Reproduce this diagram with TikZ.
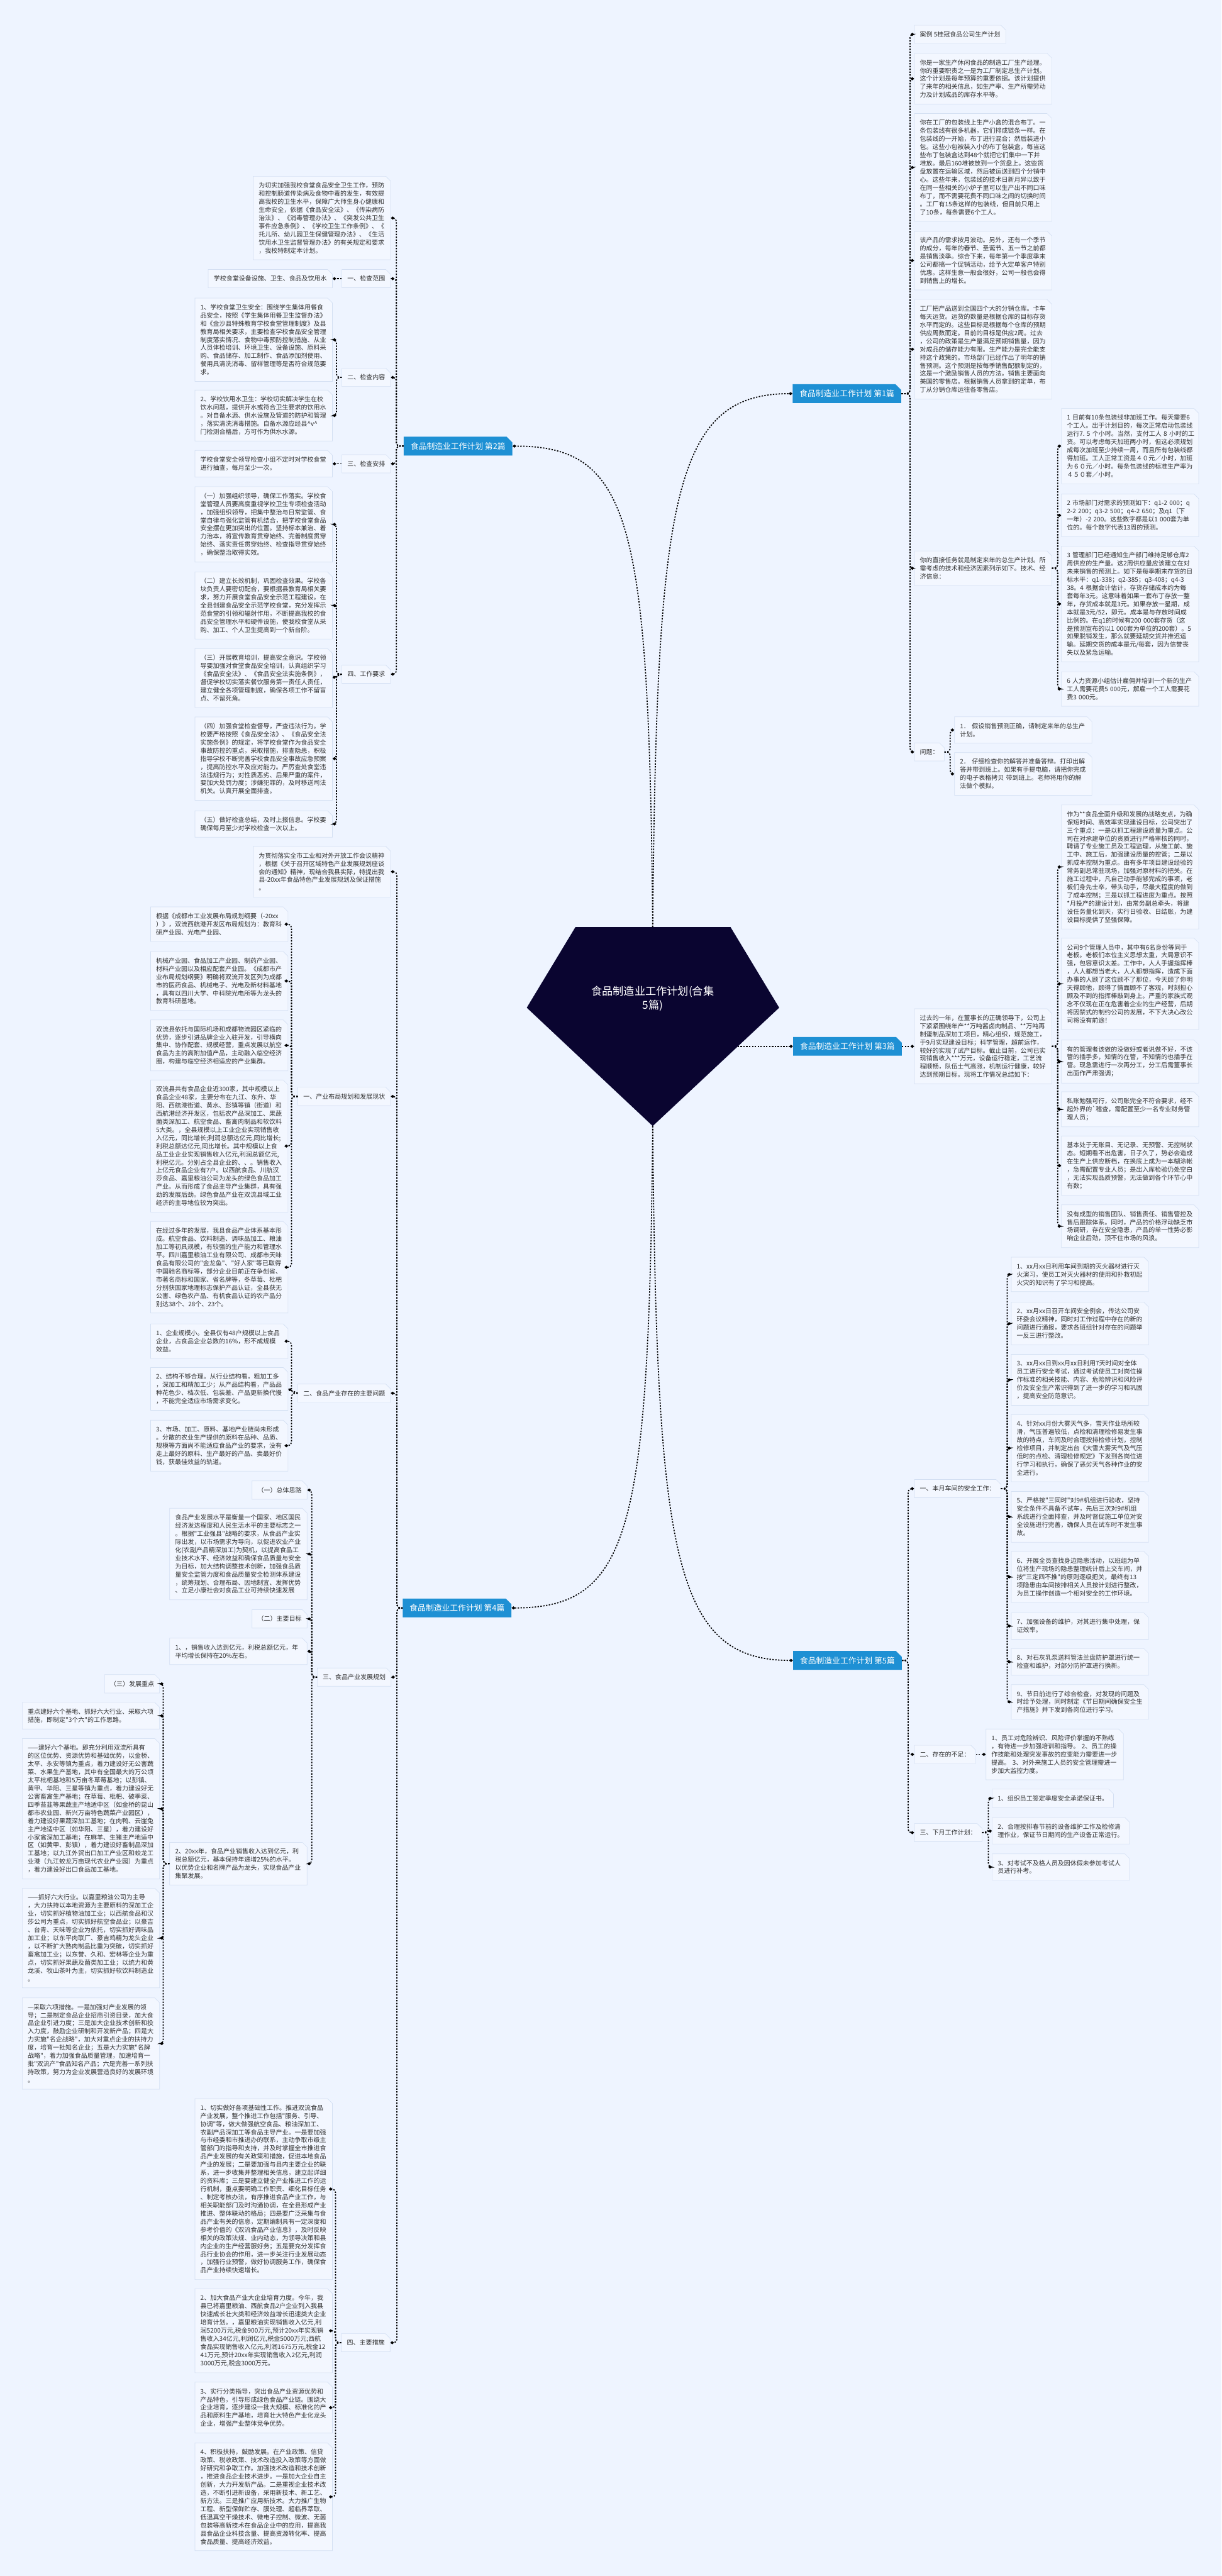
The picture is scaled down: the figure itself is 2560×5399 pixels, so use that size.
\documentclass[tikz,border=0pt]{standalone}
\usepackage{fontspec}
\newfontfamily\cjk{Noto Sans CJK SC}
\usepackage{tikz}
\usetikzlibrary{arrows.meta,shapes.misc}

\definecolor{bgblue}{RGB}{238,244,255}
\definecolor{boxfill}{RGB}{243,247,255}
\definecolor{boxline}{RGB}{212,224,243}
\definecolor{topicblue}{RGB}{30,144,212}
\definecolor{rootnavy}{RGB}{10,5,48}
\definecolor{txtgray}{RGB}{48,48,48}

\begin{document}
\begin{tikzpicture}[x=0.02cm, y=-0.02cm,
  box/.style={chamfered rectangle, chamfered rectangle corners=north east,
    chamfered rectangle xsep=0.1cm, chamfered rectangle ysep=0.1cm,
    fill=boxfill, draw=boxline, line width=0.5pt, text=txtgray,
    font=\cjk\fontsize{7.5}{9.7}\selectfont, align=left,
    inner xsep=0.13cm, inner ysep=0.16cm},
  para/.style={box, text width=5.3cm},
  topic/.style={chamfered rectangle, chamfered rectangle corners=north east,
    chamfered rectangle xsep=0.12cm, chamfered rectangle ysep=0.12cm,
    fill=topicblue, text=white, font=\cjk\fontsize{9.6}{11}\selectfont,
    minimum width=4.36cm, minimum height=0.78cm, inner xsep=0.17cm},
  link/.style={draw=black, line width=1.3pt, dash pattern=on 1.7pt off 1.7pt,
    rounded corners=0.14cm, -{Diamond[length=4.5pt,width=3.8pt]}}]

% background and page size
\fill[bgblue] (0,0) rectangle (2560,5399);
\useasboundingbox (0,0) rectangle (2560,5399);

% central pentagon
\fill[rootnavy] (1206,1943) -- (1531,1943) -- (1633,2112) -- (1368,2360) -- (1104,2112) -- cycle;
\coordinate (rt) at (1368,1943);
\coordinate (rb) at (1368,2360);
\coordinate (rr) at (1546,2193);
\node[text=white, font=\cjk\fontsize{12.9}{17}\selectfont, align=center] (root) at (1368,2093) {食品制造业工作计划(合集\\5篇)};

% five main topics
\node[topic] (t1) at (1775,825) {食品制造业工作计划~第1篇};
\node[topic] (t2) at (960,935) {食品制造业工作计划~第2篇};
\node[topic] (t3) at (1776,2193) {食品制造业工作计划~第3篇};
\node[topic] (t4) at (958,3370) {食品制造业工作计划~第4篇};
\node[topic] (t5) at (1776,3480) {食品制造业工作计划~第5篇};

\draw[link] (rt) .. controls +(8,-900) and +(-250,0) .. (t1.west);
\draw[link] (rt) .. controls +(-8,-850) and +(250,0) .. (t2.east);
\draw[link] (rr) -- (t3.west);
\draw[link] (rb) .. controls +(-8,850) and +(250,0) .. (t4.east);
\draw[link] (rb) .. controls +(8,900) and +(-250,0) .. (t5.west);

% ---------------- topic 1 ----------------
\node[box, anchor=west] (caseA) at (1916,72) {案例~5桂冠食品公司生产计划};
\node[para, anchor=west] (caseB) at (1916,165) {你是一家生产休闲食品的制造工厂生产经理。\\你的重要职责之一是为工厂制定总生产计划。\\这个计划是每年预算的重要依据。该计划提供\\了来年的相关信息，如生产率、生产所需劳动\\力及计划成品的库存水平等。};
\node[para, anchor=west] (caseC) at (1916,351) {你在工厂的包装线上生产小盒的混合布丁。一\\条包装线有很多机器，它们排成链条一样。在\\包装线的一开始，布丁进行混合；然后装进小\\包。这些小包被装入小的布丁包装盒，每当这\\些布丁包装盒达到48个就把它们集中一下并\\堆放。最后160堆被放到一个货盘上。这些货\\盘放置在运输区域，然后被运送到四个分销中\\心。这些年来，包装线的技术日新月异以致于\\在同一些相关的小炉子里可以生产出不同口味\\布丁，而不需要花费不同口味之间的切换时间\\。工厂有15条这样的包装线，但目前只用上\\了10条，每条需要6个工人。};
\node[para, anchor=west] (caseD) at (1916,546) {该产品的需求按月波动。另外，还有一个季节\\的成分，每年的春节、圣诞节、五一节之前都\\是销售淡季。综合下来，每年第一个季度季末\\公司都搞一个促销活动，给予大定单客户特别\\优惠。这样生意一般会很好，公司一般也会得\\到销售上的增长。};
\node[para, anchor=west] (caseE) at (1916,732) {工厂把产品送到全国四个大的分销仓库。卡车\\每天运货。运货的数量是根据仓库的目标存货\\水平而定的。这些目标是根据每个仓库的预期\\供应周数而定。目前的目标是供应2周。过去\\，公司的政策是生产量满足预期销售量，因为\\对成品的储存能力有限。生产能力是完全能支\\持这个政策的。市场部门已经作出了明年的销\\售预测。这个预测是按每季销售配额制定的，\\这是一个激励销售人员的方法。销售主要面向\\美国的零售店。根据销售人员拿到的定单，布\\丁从分销仓库运往各零售店。};
\node[para, anchor=west] (task) at (1916,1191) {你的直接任务就是制定来年的总生产计划。所\\需考虑的技术和经济因素列示如下。技术、经\\济信息：};
\node[box, anchor=west] (ques) at (1916,1576) {问题：};

\node[para, anchor=west] (info1) at (2224,935) {1~目前有10条包装线非加班工作。每天需要6\\个工人。出于计划目的，每次正常启动包装线\\运行7.~5~个小时。当然，支付工人~8~小时的工\\资。可以考虑每天加班两小时，但这必须规划\\成每次加班至少持续一周，而且所有包装线都\\得加班。工人正常工资是４０元／小时，加班\\为６０元／小时。每条包装线的标准生产率为\\４５０套／小时。};
\node[para, anchor=west] (info2) at (2224,1080) {2~市场部门对需求的预测如下：q1-2~000；q\\2-2~200；q3-2~500；q4-2~650；及q1（下\\一年）-2~200。这些数字都是以1~000套为单\\位的。每个数字代表13周的预测。};
\node[para, anchor=west] (info3) at (2224,1266) {3~管理部门已经通知生产部门维持足够仓库2\\周供应的生产量。这2周供应量应该建立在对\\未来销售的预测上。如下是每季期末存货的目\\标水平：q1-338；q2-385；q3-408；q4-3\\38。4~根据会计估计，存货存储成本约为每\\套每年3元。这意味着如果一套布丁存放一整\\年，存货成本就是3元。如果存放一星期，成\\本就是3元/52，即元。成本是与存放时间成\\比例的。在q1的时候有200~000套存货（这\\是预测宣布的以1~000套为单位的200套）。5\\如果脱销发生，那么就要延期交货并推迟运\\输。延期交货的成本是元/每套，因为信誉丧\\失以及紧急运输。};
\node[para, anchor=west] (info4) at (2224,1444) {6~人力资源小组估计雇佣并培训一个新的生产\\工人需要花费5~000元，解雇一个工人需要花\\费3~000元。};
\node[para, anchor=west] (ques1) at (2000,1530) {1．~假设销售预测正确，请制定来年的总生产\\计划。};
\node[para, anchor=west] (ques2) at (2000,1622) {2．~仔细检查你的解答并准备答辩。打印出解\\答并带到班上。如果有手提电脑，请把你完成\\的电子表格拷贝~带到班上。老师将用你的解\\法做个模拟。};

\foreach \c in {caseA,caseB,caseC,caseD,caseE,task,ques}
  \draw[link] (t1.east) -- ++(18,0) |- (\c.west);
\foreach \c in {info1,info2,info3,info4}
  \draw[link] (task.east) -- ++(12,0) |- (\c.west);
\foreach \c in {ques1,ques2}
  \draw[link] (ques.east) -- ++(12,0) |- (\c.west);

% ---------------- topic 2 ----------------
\node[para, anchor=east] (plan) at (819,457) {为切实加强我校食堂食品安全卫生工作，预防\\和控制肠道传染病及食物中毒的发生，有效提\\高我校的卫生水平，保障广大师生身心健康和\\生命安全，依据《食品安全法》、《传染病防\\治法》、《消毒管理办法》、《突发公共卫生\\事件应急条例》、《学校卫生工作条例》、《\\托儿所、幼儿园卫生保健管理办法》、《生活\\饮用水卫生监督管理办法》的有关规定和要求\\，我校特制定本计划。};
\node[box, anchor=east] (scope) at (819,584) {一、检查范围};
\node[box, anchor=east] (content) at (819,791) {二、检查内容};
\node[box, anchor=east] (arrange) at (819,972) {三、检查安排};
\node[box, anchor=east] (demand) at (819,1413) {四、工作要求};

\node[box, anchor=east] (scopeA) at (697,584) {学校食堂设备设施、卫生、食品及饮用水};
\node[para, anchor=east] (contA) at (697,712) {1、学校食堂卫生安全：围绕学生集体用餐食\\品安全，按照《学生集体用餐卫生监督办法》\\和《金沙县特殊教育学校食堂管理制度》及县\\教育局相关要求，主要检查学校食品安全管理\\制度落实情况、食物中毒预防控制措施、从业\\人员体检培训、环境卫生、设备设施、原料采\\购、食品储存、加工制作、食品添加剂使用、\\餐用具清洗消毒、留样管理等是否符合规范要\\求。};
\node[para, anchor=east] (contB) at (697,871) {2、学校饮用水卫生：学校切实解决学生在校\\饮水问题，提供开水或符合卫生要求的饮用水\\。对自备水源、供水设施及管道的防护和管理\\，落实清洗消毒措施。自备水源应经县\textasciicircum{}v\textasciicircum{}\\门检测合格后，方可作为供水水源。};
\node[para, anchor=east] (arrA) at (697,972) {学校食堂安全领导检查小组不定时对学校食堂\\进行抽查，每月至少一次。};
\node[para, anchor=east] (demA) at (697,1099) {（一）加强组织领导，确保工作落实。学校食\\堂管理人员要高度重视学校卫生专项检查活动\\，加强组织领导，把集中整治与日常监管、食\\堂自律与强化监管有机结合，把学校食堂食品\\安全摆在更加突出的位置。坚持标本兼治、着\\力治本，将宣传教育贯穿始终、完善制度贯穿\\始终、落实责任贯穿始终、检查指导贯穿始终\\，确保整治取得实效。};
\node[para, anchor=east] (demB) at (697,1269) {（二）建立长效机制，巩固检查效果。学校各\\块负责人要密切配合，要根据县教育局相关要\\求，努力开展食堂食品安全示范工程建设。在\\全县创建食品安全示范学校食堂，充分发挥示\\范食堂的引领和辐射作用，不断提高我校的食\\品安全管理水平和硬件设施，使我校食堂从采\\购、加工、个人卫生提高到一个新台阶。};
\node[para, anchor=east] (demC) at (697,1421) {（三）开展教育培训，提高安全意识。学校领\\导要加强对食堂食品安全培训，认真组织学习\\《食品安全法》、《食品安全法实施条例》，\\督促学校切实落实餐饮服务第一责任人责任，\\建立健全各项管理制度，确保各项工作不留盲\\点、不留死角。};
\node[para, anchor=east] (demD) at (697,1590) {（四）加强食堂检查督导，严查违法行为。学\\校要严格按照《食品安全法》、《食品安全法\\实施条例》的规定，将学校食堂作为食品安全\\事故防控的重点，采取措施，排查隐患，积极\\指导学校不断完善学校食品安全事故应急预案\\，提高防控水平及应对能力。严厉查处食堂违\\法违规行为；对性质恶劣、后果严重的案件，\\要加大处罚力度；涉嫌犯罪的，及时移送司法\\机关。认真开展全面排查。};
\node[para, anchor=east] (demE) at (697,1727) {（五）做好检查总结，及时上报信息。学校要\\确保每月至少对学校检查一次以上。};

\foreach \c in {plan,scope,content,arrange,demand}
  \draw[link] (t2.west) -- ++(-15,0) |- (\c.east);
\draw[link] (scope.west) -- (scopeA.east);
\draw[link] (arrange.west) -- (arrA.east);
\foreach \c in {contA,contB}
  \draw[link] (content.west) -- ++(-11,0) |- (\c.east);
\foreach \c in {demA,demB,demD,demE}
  \draw[link] (demand.west) -- ++(-11,0) |- (\c.east);
\draw[link] (demand.west) -- (demC.east);

% ---------------- topic 3 ----------------
\node[para, anchor=west] (review) at (1916,2193) {过去的一年，在董事长的正确领导下，公司上\\下紧紧围绕年产**万吨酱卤肉制品、**万吨再\\制蛋制品深加工项目，精心组织，规范施工，\\于9月实现建设目标；科学管理，超前运作，\\较好的实现了试产目标。截止目前，公司已实\\现销售收入***万元，设备运行稳定，工艺流\\程顺畅，队伍士气高涨，机制运行健康，较好\\达到预期目标。现将工作情况总结如下：};
\node[para, anchor=west] (revA) at (2224,1817) {作为**食品全面升级和发展的战略支点，为确\\保短时间、高效率实现建设目标，公司突出了\\三个重点：一是以抓工程建设质量为重点。公\\司在对承建单位的资质进行严格审核的同时，\\聘请了专业施工员及工程监理，从施工前、施\\工中、施工后，加强建设质量的控管；二是以\\抓成本控制为重点。由有多年项目建设经验的\\常务副总常驻现场，加强对原材料的把关。在\\施工过程中，凡自己动手能够完成的事项，老\\板们身先士卒，带头动手，尽最大程度的做到\\了成本控制；三是以抓工程进度为重点。按照\\**月投产的建设计划，由常务副总牵头，将建\\设任务量化到天，实行日验收、日结账，为建\\设目标提供了坚强保障。};
\node[para, anchor=west] (revB) at (2224,2062) {公司9个管理人员中，其中有6名身份等同于\\老板。老板们本位主义思想太重，大局意识不\\强，包容意识太差。工作中，人人手握指挥棒\\，人人都想当老大，人人都想指挥，造成下面\\办事的人顾了这位顾不了那位，今天顾了你明\\天得顾他，顾得了情面顾不了客观，时刻担心\\顾及不到的指挥棒敲到身上。严重的家族式观\\念不仅现在正在危害着企业的生产经营，后期\\将因禁式的制约公司的发展，不下大决心改公\\司将没有前途！};
\node[para, anchor=west] (revC) at (2224,2225) {有的管理者该做的没做好或者说做不好，不该\\管的插手多，知情的在管，不知情的也插手在\\管。现急需进行一次再分工，分工后需董事长\\出面作严肃强调；};
\node[para, anchor=west] (revD) at (2224,2325) {私账勉强可行，公司账完全不符合要求，经不\\起外界的`稽查，需配置至少一名专业财务管\\理人员；};
\node[para, anchor=west] (revE) at (2224,2443) {基本处于无账目、无记录、无预警、无控制状\\态。短期看不出危害，日子久了，势必会造成\\在生产上供应断档，在换底上成为一本糊涂帐\\，急需配置专业人员；是出入库检验仍处空白\\，无法实现品质预警，无法做到各个环节心中\\有数；};
\node[para, anchor=west] (revF) at (2224,2570) {没有成型的销售团队、销售责任、销售管控及\\售后跟踪体系。同时，产品的价格浮动缺乏市\\场调研，存在安全隐患，产品的单一性势必影\\响企业后劲，顶不住市场的风浪。};

\draw[link] (t3.east) -- (review.west);
\foreach \c in {revA,revB,revC,revD,revE,revF}
  \draw[link] (review.east) -- ++(12,0) |- (\c.west);

% ---------------- topic 4 ----------------
\node[para, anchor=east] (intro) at (819,1827) {为贯彻落实全市工业和对外开放工作会议精神\\，根据《关于召开区域特色产业发展规划座谈\\会的通知》精神，现结合我县实际，特提出我\\县-20xx年食品特色产业发展规划及保证措施\\。};
\node[box, anchor=east] (status) at (819,2298) {一、产业布局规划和发展现状};
\node[box, anchor=east] (issue) at (819,2920) {二、食品产业存在的主要问题};
\node[box, anchor=east] (layout) at (820,3515) {三、食品产业发展规划};
\node[box, anchor=east] (measure) at (818,4910) {四、主要措施};

\node[para, anchor=east] (statA) at (604,1937) {根据《成都市工业发展布局规划纲要（-20xx\\）》，双流西航港开发区布局规划为：教育科\\研产业园、光电产业园、};
\node[para, anchor=east] (statB) at (604,2056) {机械产业园、食品加工产业园、制药产业园、\\材料产业园以及相应配套产业园。《成都市产\\业布局规划纲要》明确将双流开发区列为成都\\市的医药食品、机械电子、光电及新材料基地\\，具有以四川大学、中科院光电所等为龙头的\\教育科研基地。};
\node[para, anchor=east] (statC) at (604,2191) {双流县依托与国际机场和成都物流园区紧临的\\优势，逐步引进品牌企业入驻开发，引导横向\\集中、协作配套、规模经营，重点发展以航空\\食品为主的高附加值产品，主动融入临空经济\\圈，构建与临空经济相适应的产业集群。};
\node[para, anchor=east] (statD) at (604,2402) {双流县共有食品企业近300家，其中规模以上\\食品企业48家，主要分布在九江、东升、华\\阳、西航港街道、黄水、彭镇等镇（街道）和\\西航港经济开发区，包括农产品深加工、果蔬\\菌类深加工、航空食品、畜禽肉制品和软饮料\\5大类。，全县规模以上工业企业实现销售收\\入亿元，同比增长;利润总额达亿元,同比增长;\\利税总额达亿元,同比增长。其中规模以上食\\品工业企业实现销售收入亿元,利润总额亿元,\\利税亿元。分别占全县企业的、、。销售收入\\上亿元食品企业有7户。以西航食品、川航汉\\莎食品、嘉里粮油公司为龙头的绿色食品加工\\产业。从而形成了食品主导产业集群，具有强\\劲的发展后劲。绿色食品产业在双流县域工业\\经济的主导地位较为突出。};
\node[para, anchor=east] (statE) at (604,2656) {在经过多年的发展，我县食品产业体系基本形\\成。航空食品、饮料制造、调味品加工、粮油\\加工等初具规模，有较强的生产能力和管理水\\平。四川嘉里粮油工业有限公司、成都市天味\\食品有限公司的"金龙鱼"、"好人家"等已取得\\中国驰名商标等，部分企业目前正在争创省、\\市著名商标和国家、省名牌等，冬草莓、枇杷\\分别获国家地理标志保护产品认证，全县获无\\公害、绿色农产品、有机食品认证的农产品分\\别达38个、28个、23个。};

\node[para, anchor=east] (issA) at (604,2811) {1、企业规模小。全县仅有48户规模以上食品\\企业，占食品企业总数的16\%，形不成规模\\效益。};
\node[para, anchor=east] (issB) at (604,2911) {2、结构不够合理。从行业结构看，粗加工多\\，深加工和精加工少；从产品结构看，产品品\\种花色少、档次低、包装差、产品更新换代慢\\，不能完全适应市场需求变化。};
\node[para, anchor=east] (issC) at (604,3030) {3、市场、加工、原料、基地产业链尚未形成\\。分散的农业生产提供的原料在品种、品质、\\规模等方面尚不能适应食品产业的要求，没有\\走上最好的原料、生产最好的产品、卖最好价\\钱，获最佳效益的轨道。};

\node[box, anchor=east] (idea) at (644,3123) {（一）总体思路};
\node[para, anchor=east] (ideaA) at (644,3257) {食品产业发展水平是衡量一个国家、地区国民\\经济发达程度和人民生活水平的主要标志之一\\。根据"工业强县"战略的要求，从食品产业实\\际出发，以市场需求为导向，以促进农业产业\\化(农副产品精深加工)为契机，以提高食品工\\业技术水平、经济效益和确保食品质量与安全\\为目标，加大结构调整技术创新，加强食品质\\量安全监管力度和食品质量安全检测体系建设\\，统筹规划、合理布局、因地制宜、发挥优势\\、立足小康社会对食品工业可持续快速发展};
\node[box, anchor=east] (goal) at (644,3393) {（二）主要目标};
\node[para, anchor=east] (goalA) at (644,3461) {1、，销售收入达到亿元，利税总额亿元，年\\平均增长保持在20\%左右。};
\node[para, anchor=east] (goalB) at (644,3906) {2、20xx年，食品产业销售收入达到亿元，利\\税总额亿元，基本保持年递增25\%的水平。\\以优势企业和名牌产品为龙头，实现食品产业\\集聚发展。};

\node[box, anchor=east] (focus) at (335,3529) {（三）发展重点};
\node[para, anchor=east] (focusA) at (335,3596) {重点建好六个基地、抓好六大行业、采取六项\\措施，即制定"3个六"的工作思路。};
\node[para, anchor=east] (focusB) at (335,3791) {——建好六个基地。即充分利用双流所具有\\的区位优势、资源优势和基础优势，以金桥、\\太平、永安等镇为重点，着力建设好无公害蔬\\菜、水果生产基地，其中有全国最大的万公顷\\太平枇杷基地和5万亩冬草莓基地；以彭镇、\\黄甲、华阳、三星等镇为重点，着力建设好无\\公害畜禽生产基地；在草莓、枇杷、破季菜、\\四季苔韭等果蔬主产地适中区（如金桥的昆山\\都市农业园、新兴万亩特色蔬菜产业园区），\\着力建设好果蔬深加工基地；在肉鸭、云崖兔\\主产地适中区（如华阳、三星），着力建设好\\小家禽深加工基地；在麻羊、生猪主产地适中\\区（如黄甲、彭镇），着力建设好畜制品深加\\工基地；以九江外贸出口加工产业区和蛟龙工\\业港（九江蛟龙万亩现代农业产业园）为重点\\，着力建设好出口食品加工基地。};
\node[para, anchor=east] (focusC) at (335,4062) {——抓好六大行业。以嘉里粮油公司为主导\\，大力扶持以本地资源为主要原料的深加工企\\业，切实抓好植物油加工业；以西航食品和汉\\莎公司为重点，切实抓好航空食品业；以豪吉\\、台青、天味等企业为依托，切实抓好调味品\\加工业；以东平肉联厂、豪吉鸡精为龙头企业\\，以不断扩大熟肉制品比重为突破，切实抓好\\畜禽加工业；以东誉、久和、宏林等企业为重\\点，切实抓好果蔬及菌类加工业；以统力和黄\\龙溪、牧山茶叶为主，切实抓好软饮料制造业\\。};
\node[para, anchor=east] (focusD) at (335,4283) {—采取六项措施。一是加强对产业发展的领\\导；二是制定食品企业招商引资目录，加大食\\品企业引进力度；三是加大企业技术创新和投\\入力度，鼓励企业研制和开发新产品；四是大\\力实施"名企战略"，加大对重点企业的扶持力\\度，培育一批知名企业；五是大力实施"名牌\\战略"，着力加强食品质量管理，加速培育一\\批"双流产"食品知名产品；六是完善一系列扶\\持政策，努力为企业发展营造良好的发展环境\\。};

\node[para, anchor=east] (measA) at (697,4588) {1、切实做好各项基础性工作。推进双流食品\\产业发展，整个推进工作包括"服务、引导、\\协调"等，做大做强航空食品、粮油深加工、\\农副产品深加工等食品主导产业。一是要加强\\与市经委和市推进办的联系，主动争取市级主\\管部门的指导和支持，并及时掌握全市推进食\\品产业发展的有关政策和措施，促进本地食品\\产业的发展；二是要加强与县内主要企业的联\\系，进一步收集并整理相关信息，建立起详细\\的资料库；三是要建立健全产业推进工作的运\\行机制，重点要明确工作职责、细化目标任务\\、制定考核办法，有序推进食品产业工作，与\\相关职能部门及时沟通协调，在全县形成产业\\推进、整体联动的格局；四是要广泛采集与食\\品产业有关的信息，定期编制具有一定深度和\\参考价值的《双流食品产业信息》，及时反映\\相关的政策法规、业内动态，为领导决策和县\\内企业的生产经营服好务；五是要充分发挥食\\品行业协会的作用，进一步关注行业发展动态\\，加强行业预警，做好协调服务工作，确保食\\品产业持续快速增长。};
\node[para, anchor=east] (measB) at (697,4885) {2、加大食品产业大企业培育力度。今年，我\\县已将嘉里粮油、西航食品2户企业列入我县\\快速成长壮大类和经济效益增长迅速类大企业\\培育计划。，嘉里粮油实现销售收入亿元,利\\润5200万元,税金900万元,预计20xx年实现销\\售收入34亿元,利润亿元,税金5000万元;西航\\食品实现销售收入亿元,利润1675万元,税金12\\41万元,预计20xx年实现销售收入2亿元,利润\\3000万元,税金3000万元。};
\node[para, anchor=east] (measC) at (697,5046) {3、实行分类指导，突出食品产业资源优势和\\产品特色，引导形成绿色食品产业链。围绕大\\企业培育，逐步建设一批大规模、标准化的产\\品和原料生产基地，培育壮大特色产业化龙头\\企业，增强产业整体竞争优势。};
\node[para, anchor=east] (measD) at (697,5233) {4、积极扶持，鼓励发展。在产业政策、信贷\\政策、税收政策、技术改造投入政策等方面做\\好研究和争取工作。加强技术改造和技术创新\\，推进食品企业技术进步。一是加大企业自主\\创新，大力开发新产品。二是重视企业技术改\\造，不断引进新设备，采用新技术、新工艺、\\新方法。三是推广应用新技术。大力推广生物\\工程、新型保鲜贮存、膜处理、超临界萃取、\\低温真空干燥技术、微电子控制、微波、无菌\\包装等高新技术在食品企业中的应用，提高我\\县食品企业科技含量、提高资源转化率、提高\\食品质量、提高经济效益。};

\foreach \c in {intro,status,issue,layout,measure}
  \draw[link] (t4.west) -- ++(-12,0) |- (\c.east);
\foreach \c in {statA,statB,statC,statD,statE}
  \draw[link] (status.west) -- ++(-13,0) |- (\c.east);
\foreach \c in {issA,issC}
  \draw[link] (issue.west) -- ++(-13,0) |- (\c.east);
\draw[link] (issue.west) -- (issB.east);
\foreach \c in {idea,ideaA,goal,goalA,goalB}
  \draw[link] (layout.west) -- ++(-11,0) |- (\c.east);
\foreach \c in {focus,focusA,focusB,focusC,focusD}
  \draw[link] (goalB.west) -- ++(-13,0) |- (\c.east);
\foreach \c in {measA,measB,measC,measD}
  \draw[link] (measure.west) -- ++(-12,0) |- (\c.east);

% ---------------- topic 5 ----------------
\node[box, anchor=west] (safety) at (1916,3120) {一、本月车间的安全工作：};
\node[box, anchor=west] (lack) at (1916,3677) {二、存在的不足：};
\node[box, anchor=west] (next) at (1916,3841) {三、下月工作计划：};

\node[para, anchor=west] (safe1) at (2119,2671) {1、xx月xx日利用车间到期的灭火器材进行灭\\火演习，使员工对灭火器材的使用和扑救初起\\火灾的知识有了学习和提高。};
\node[para, anchor=west] (safe2) at (2119,2774) {2、xx月xx日召开车间安全例会，传达公司安\\环委会议精神，同时对工作过程中存在的新的\\问题进行通报，要求各班组针对存在的问题举\\一反三进行整改。};
\node[para, anchor=west] (safe3) at (2119,2892) {3、xx月xx日到xx月xx日利用7天时间对全体\\员工进行安全考试，通过考试使员工对岗位操\\作标准的相关技能、内容、危险辨识和风险评\\价及安全生产常识得到了进一步的学习和巩固\\，提高安全防范意识。};
\node[para, anchor=west] (safe4) at (2119,3035) {4、针对xx月份大雾天气多，雪天作业场所较\\滑，气压普遍较低，点检和清理检修易发生事\\故的特点，车间及时合理按排检修计划，控制\\检修项目，并制定出台《大雪大雾天气及气压\\低时的点检、清理检修规定》下发到各岗位进\\行学习和执行，确保了恶劣天气各种作业的安\\全进行。};
\node[para, anchor=west] (safe5) at (2119,3179) {5、严格按"三同时"对9\#机组进行验收，坚持\\安全条件不具备不试车，先后三次对9\#机组\\系统进行全面排查，并及时督促施工单位对安\\全设施进行完善，确保人员在试车时不发生事\\故。};
\node[para, anchor=west] (safe6) at (2119,3305) {6、开展全员查找身边隐患活动，以班组为单\\位将生产现场的隐患整理统计后上交车间，并\\按"三定四不推"的原则逐级把关，最终有13\\项隐患由车间按排相关人员按计划进行整改，\\为员工操作创造一个相对安全的工作环境。};
\node[para, anchor=west] (safe7) at (2119,3408) {7、加强设备的维护，对其进行集中处理，保\\证效率。};
\node[para, anchor=west] (safe8) at (2119,3483) {8、对石灰乳泵送料管法兰盘防护罩进行统一\\检查和维护，对部分防护罩进行换新。};
\node[para, anchor=west] (safe9) at (2119,3567) {9、节日前进行了综合检查，对发现的问题及\\时给予处理，同时制定《节日期间确保安全生\\产措施》并下发到各岗位进行学习。};

\node[para, anchor=west] (lackA) at (2066,3677) {1、员工对危险辨识、风险评价掌握的不熟练\\，有待进一步加强培训和指导。~2、员工的操\\作技能和处理突发事故的应变能力需要进一步\\提高。~3、对外来施工人员的安全管理需进一\\步加大监控力度。};

\node[box, anchor=west] (next1) at (2079,3769) {1、组织员工签定季度安全承诺保证书。};
\node[para, anchor=west] (next2) at (2079,3837) {2、合理按排春节前的设备维护工作及检修清\\理作业，保证节日期间的生产设备正常运行。};
\node[para, anchor=west] (next3) at (2079,3913) {3、对考试不及格人员及因休假未参加考试人\\员进行补考。};

\foreach \c in {safety,lack,next}
  \draw[link] (t5.east) -- ++(13,0) |- (\c.west);
\foreach \c in {safe1,safe2,safe3,safe4,safe5,safe6,safe7,safe8,safe9}
  \draw[link] (safety.east) -- ++(13,0) |- (\c.west);
\draw[link] (lack.east) -- (lackA.west);
\foreach \c in {next1,next3}
  \draw[link] (next.east) -- ++(13,0) |- (\c.west);
\draw[link] (next.east) -- (next2.west);
\end{tikzpicture}
\end{document}
